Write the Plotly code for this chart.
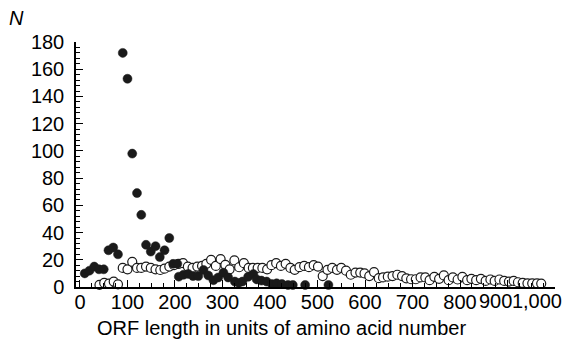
import plotly.graph_objects as go

# Filled (black) series
filled_x = [10, 20, 30, 40, 50, 60, 70, 80, 90, 100, 110, 120, 129, 139, 149, 159, 168, 178, 188, 196,
            205, 208, 218, 228, 238, 249, 260, 270, 281, 291, 302, 312, 326, 334, 342, 354, 365, 372,
            382, 393, 404, 414, 425, 438, 448, 474, 523]
filled_y = [10, 12, 15, 13, 13, 27, 29, 24, 172, 153, 98, 69, 53, 31, 26, 30, 22, 27, 36, 17,
            17, 7.6, 9, 9.6, 8, 8, 12.5, 8.5, 5, 7, 10.5, 7, 4, 3, 4, 7.5, 9.5, 5.6,
            4.7, 4, 2.2, 2.7, 2.2, 1.5, 1.5, 1.5, 1.5]

# Open (white) series
open_x = [41, 51, 61, 71, 80, 90, 100, 110, 120, 129, 139, 149, 159, 169, 178, 188, 198, 208, 217,
          227, 237, 247, 257, 266, 276, 286, 296, 306, 315, 325, 335, 345, 355, 364, 374, 384, 394,
          403, 413, 423, 433, 443, 452, 462, 472, 482, 492, 501, 511, 521, 531, 541, 550, 560, 570,
          580, 590, 599, 609, 619, 629, 638, 648, 658, 668, 678, 687, 697, 707, 717, 727, 736, 746,
          756, 766, 776, 785, 795, 805, 815, 824, 834, 844, 854, 864, 873, 883, 893, 903, 913, 922,
          932, 942, 952, 962, 971]
open_y = [1.5, 3, 2.5, 4, 2, 14, 13, 18.5, 14, 14, 15, 14, 13, 12.5, 13.5, 15, 16, 17, 17.5,
          15, 14, 15, 15.5, 17, 20, 15.5, 20.5, 16.3, 13, 19.5, 14.5, 17.5, 14, 14, 14, 14, 13,
          16, 17.5, 15.5, 17, 14, 12.6, 14.6, 15.5, 14.6, 16, 15, 8, 12.6, 14, 12.6, 14, 12, 9,
          10.6, 10.6, 10, 8, 11, 6.5, 7, 7.6, 8, 9, 8, 6.4, 5.7, 5.7, 7, 7, 5, 7.5,
          6, 8.5, 5, 7, 5.5, 7.5, 5, 6, 5, 6, 4.5, 5.5, 4.5, 5.5, 4.5, 4, 4.5, 3.5,
          3, 2.7, 2.7, 2.7, 2.5]

x_ticks = [0, 100, 200, 300, 400, 500, 600, 700, 800, 900, 1000]
x_ticktext = ["0", "100", "200", "300", "400", "500", "600", "700", "800", "", ""]
# the original figure nudges the last two labels left so they fit; they sit on an overlay axis
x_nudged_vals = [875, 962]
x_nudged_text = ["900", "1,000"]
y_ticks = [0, 20, 40, 60, 80, 100, 120, 140, 160, 180]

x_title = "ORF length in units of amino acid number"
y_title = "<i>N</i>"

FONT = "Liberation Sans, Arial, sans-serif"
X_RANGE = [-8.4, 1000]

fig = go.Figure()
fig.add_trace(go.Scatter(
    x=open_x, y=open_y, mode="markers", cliponaxis=False,
    marker=dict(symbol="circle", size=9, color="white",
                line=dict(color="#1a1a1a", width=1.2)),
    showlegend=False))
fig.add_trace(go.Scatter(
    x=filled_x, y=filled_y, mode="markers", cliponaxis=False,
    marker=dict(symbol="circle", size=9, color="#1a1a1a",
                line=dict(color="#1a1a1a", width=0.5)),
    showlegend=False))
# invisible carrier trace so the overlay label axis is drawn
fig.add_trace(go.Scatter(
    x=x_nudged_vals, y=[0, 0], xaxis="x2", yaxis="y", mode="markers",
    marker=dict(size=1, opacity=0), hoverinfo="skip", showlegend=False))

# page body has an 8px margin, so the figure is 8px smaller and margins compensate
fig.update_layout(
    width=563, height=337,
    margin=dict(l=68, r=16, t=34, b=58),
    plot_bgcolor="white", paper_bgcolor="white",
    font=dict(family=FONT, size=20, color="black"),
    separators=".,",
    xaxis=dict(
        range=X_RANGE, tickvals=x_ticks, ticktext=x_ticktext, automargin=False,
        ticklabeloverflow="allow", tickangle=0,
        showline=True, linecolor="black", linewidth=1.5,
        ticks="inside", ticklen=7, tickwidth=1.2, tickcolor="black",
        minor=dict(dtick=25, tick0=0, ticks="inside", ticklen=4, tickwidth=1, tickcolor="black"),
        showgrid=False, zeroline=False, ticklabelstandoff=-4,
    ),
    xaxis2=dict(
        overlaying="x", anchor="y", side="bottom", range=X_RANGE,
        tickvals=x_nudged_vals, ticktext=x_nudged_text, automargin=False,
        ticklabeloverflow="allow", tickangle=0, ticks="", showline=False,
        showgrid=False, zeroline=False, ticklabelstandoff=0,
    ),
    yaxis=dict(
        range=[0, 180], tickvals=y_ticks, automargin=False,
        showline=True, linecolor="black", linewidth=1.5,
        ticks="inside", ticklen=7, tickwidth=1.2, tickcolor="black",
        minor=dict(dtick=4, tick0=0, ticks="inside", ticklen=4, tickwidth=1, tickcolor="black"),
        showgrid=False, zeroline=False, ticklabelstandoff=6,
    ),
    annotations=[
        dict(text=y_title, xref="paper", yref="paper", x=-0.124, y=1.098,
             xanchor="center", yanchor="middle", showarrow=False,
             font=dict(size=20, family=FONT, color="black")),
        dict(text=x_title, xref="paper", yref="paper", x=0.428, y=-0.167,
             xanchor="center", yanchor="middle", showarrow=False,
             font=dict(size=20, family=FONT, color="black")),
    ],
)

fig.write_html("out.html")
